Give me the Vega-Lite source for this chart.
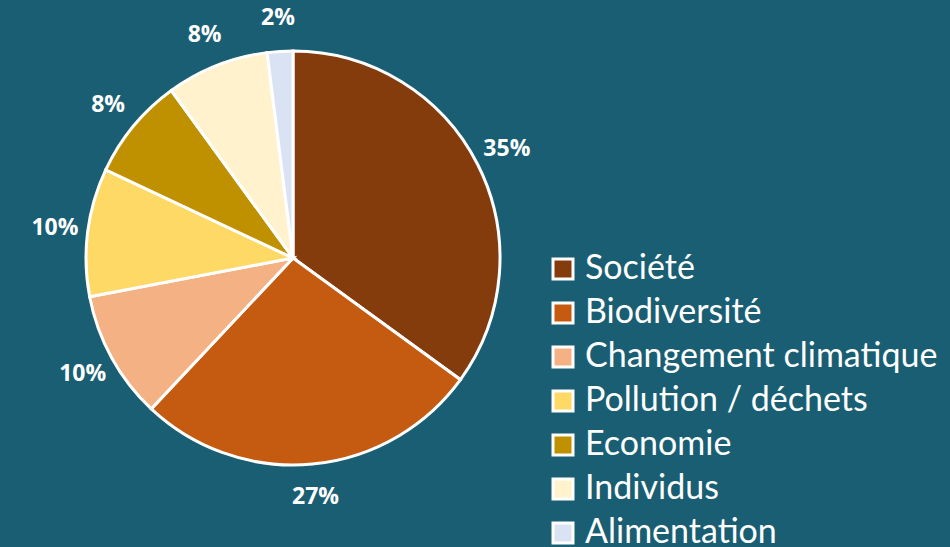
{
  "$schema": "https://vega.github.io/schema/vega-lite/v6.json",
  "width": 586,
  "height": 516,
  "autosize": {"type": "none"},
  "padding": {"left": 0, "top": 0, "right": 364, "bottom": 31},
  "background": "#195e72",
  "config": {"view": {"stroke": null}},
  "data": {
    "values": [
      {"theme": "Société", "value": 35, "label": "35%", "rank": 1},
      {"theme": "Biodiversité", "value": 27, "label": "27%", "rank": 2},
      {"theme": "Changement climatique", "value": 10, "label": "10%", "rank": 3},
      {"theme": "Pollution / déchets", "value": 10, "label": "10%", "rank": 4},
      {"theme": "Economie", "value": 8, "label": "8%", "rank": 5},
      {"theme": "Individus", "value": 8, "label": "8%", "rank": 6},
      {"theme": "Alimentation", "value": 2, "label": "2%", "rank": 7}
    ]
  },
  "encoding": {
    "theta": {"field": "value", "type": "quantitative", "stack": true},
    "order": {"field": "rank", "type": "quantitative"},
    "color": {
      "field": "theme",
      "type": "nominal",
      "scale": {
        "domain": ["Société", "Biodiversité", "Changement climatique", "Pollution / déchets", "Economie", "Individus", "Alimentation"],
        "range": ["#843c0c", "#c55a11", "#f4b183", "#ffd966", "#bf9000", "#fff2cc", "#dae3f3"]
      },
      "legend": {
        "title": null,
        "orient": "none",
        "legendX": 546,
        "legendY": 252,
        "symbolType": "square",
        "symbolSize": 400,
        "symbolStrokeColor": "white",
        "symbolStrokeWidth": 3,
        "symbolOpacity": 1,
        "labelFont": "Lato",
        "labelFontSize": 34,
        "labelColor": "white",
        "labelOffset": 5,
        "labelLimit": 500,
        "rowPadding": 10
      }
    }
  },
  "layer": [
    {
      "mark": {"type": "arc", "outerRadius": 207, "stroke": "white", "strokeWidth": 3}
    },
    {
      "mark": {"type": "text", "radius": 240, "font": "Open Sans", "fontWeight": "bold", "fontSize": 23, "fill": "white"},
      "encoding": {
        "text": {"field": "label"},
        "color": {"value": "white"}
      }
    }
  ]
}
